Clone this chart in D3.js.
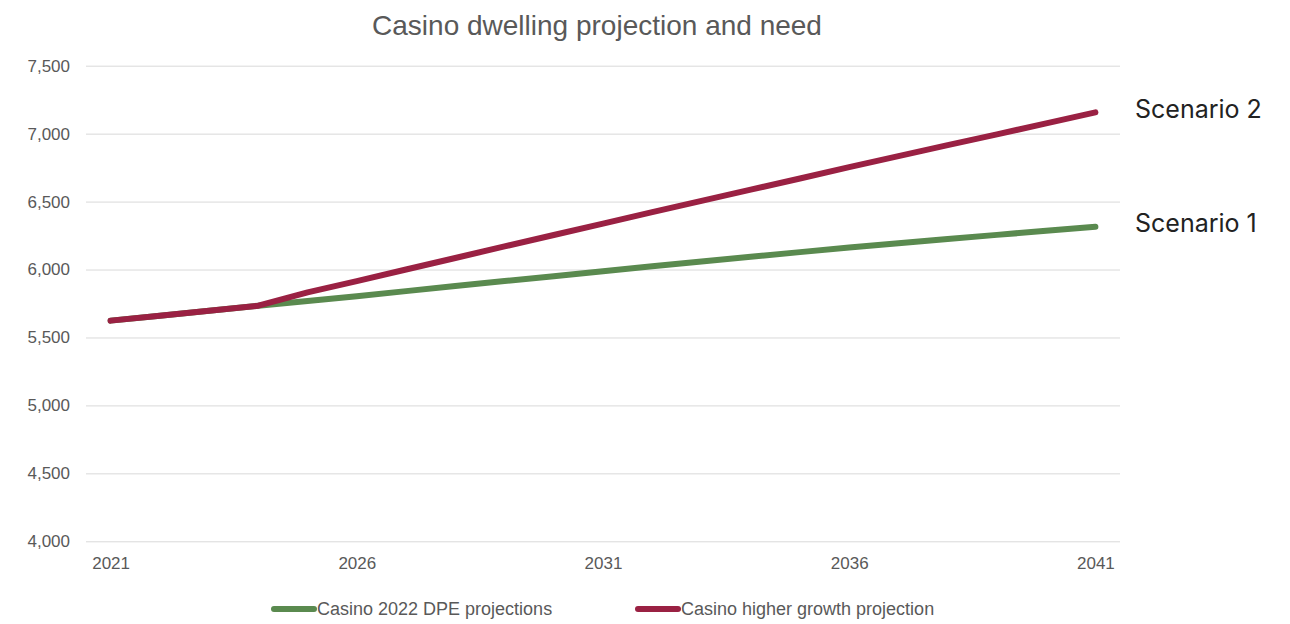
<!DOCTYPE html>
<html>
<head>
<meta charset="utf-8">
<script src="https://cdn.jsdelivr.net/npm/d3@7"></script>
<style>
  html, body { margin: 0; padding: 0; background: #fff; }
  svg { display: block; }
</style>
</head>
<body>
<svg id="chart" width="1290" height="624"></svg>
<script>
// Annual dwelling counts, 2021–2041
const years = d3.range(2021, 2042);
const dpeProjection = [5624, 5660, 5697, 5734, 5768, 5804, 5841, 5878, 5915, 5951, 5988,
                       6024, 6059, 6094, 6128, 6162, 6194, 6225, 6255, 6285, 6315];
const higherGrowth  = [5624, 5660, 5697, 5734, 5832, 5915, 6000, 6085, 6170, 6254, 6338,
                       6422, 6505, 6588, 6670, 6754, 6835, 6915, 6995, 7076, 7157];
const seriesNames = ["Casino 2022 DPE projections", "Casino higher growth projection"];
const scenarioLabels = ["Scenario 1", "Scenario 2"];
const yTicks = [4000, 4500, 5000, 5500, 6000, 6500, 7000, 7500];
const xTickYears = [2021, 2026, 2031, 2036, 2041];
const chartTitle = "Casino dwelling projection and need";

const colors = ["#5a8a4f", "#9a2143"];
const series = [dpeProjection, higherGrowth];

const svg = d3.select("#chart");
const textGray = "#595959";
const font = "'Liberation Sans', Arial, sans-serif";

const x = d3.scalePoint().domain(years).range([86, 1120]).padding(0.5);
const y = d3.scaleLinear().domain([4000, 7500]).range([541.3, 65.7]);

// Title
svg.append("text")
  .attr("x", 597).attr("y", 35)
  .attr("text-anchor", "middle")
  .attr("font-family", font).attr("font-size", 28)
  .attr("fill", textGray)
  .text(chartTitle);

// Gridlines + y labels
const yAxis = d3.axisLeft(y).tickValues(yTicks)
  .tickSize(-(1120 - 86)).tickPadding(16)
  .tickFormat(d3.format(","));
const gy = svg.append("g").attr("transform", "translate(86,0)").call(yAxis);
gy.select(".domain").remove();
gy.selectAll(".tick line").attr("stroke", "#d9d9d9").attr("stroke-width", 1);
gy.selectAll(".tick text")
  .attr("font-family", font).attr("font-size", 17).attr("fill", textGray);

// X labels
const xAxis = d3.axisBottom(x).tickValues(xTickYears).tickSize(0).tickPadding(16);
const gx = svg.append("g").attr("transform", "translate(0,541.3)").call(xAxis);
gx.select(".domain").remove();
gx.selectAll(".tick text")
  .attr("font-family", font).attr("font-size", 17).attr("fill", textGray);

// Lines
const line = d3.line().x((d, i) => x(years[i])).y(d => y(d));
series.forEach((vals, k) => {
  svg.append("path")
    .datum(vals)
    .attr("d", line)
    .attr("fill", "none")
    .attr("stroke", colors[k])
    .attr("stroke-width", 6)
    .attr("stroke-linecap", "round")
    .attr("stroke-linejoin", "round");
});

// Scenario labels next to line ends
series.forEach((vals, k) => {
  svg.append("text")
    .attr("x", 1135)
    .attr("y", y(vals[vals.length - 1]))
    .attr("dy", "0.22em")
    .attr("font-family", "Inter, 'Noto Sans', sans-serif")
    .attr("font-size", 25)
    .attr("fill", "#222")
    .text(scenarioLabels[k]);
});

// Legend
const legendX = [272, 636];
seriesNames.forEach((name, k) => {
  const g = svg.append("g").attr("transform", `translate(${legendX[k]},609)`);
  g.append("line")
    .attr("x1", 2).attr("x2", 42).attr("y1", 0).attr("y2", 0)
    .attr("stroke", colors[k]).attr("stroke-width", 6).attr("stroke-linecap", "round");
  g.append("text")
    .attr("x", 45).attr("y", 6)
    .attr("font-family", font).attr("font-size", 18).attr("fill", textGray)
    .text(name);
});
</script>
</body>
</html>
